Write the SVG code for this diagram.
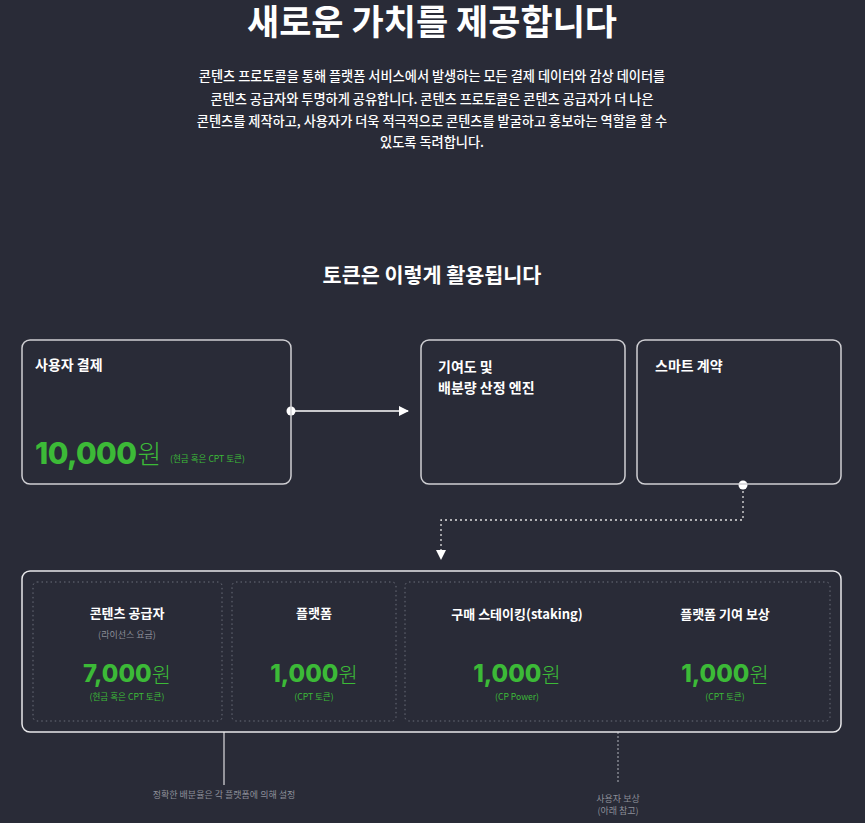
<svg xmlns="http://www.w3.org/2000/svg" width="865" height="823" viewBox="0 0 865 823">
<defs>
<style>
.kr{font-family:"Noto Sans CJK KR","Noto Sans",sans-serif}
.t{fill:#ffffff;font-weight:700}
.box{fill:none;stroke:#cfcfd3;stroke-width:1.5}
.inner{fill:none;stroke:#6b6e7a;stroke-width:1;stroke-dasharray:1.5 3}
.num{font-family:"Inter","Open Sans",sans-serif;font-weight:800;fill:#3cba37}
.won{font-family:"Noto Sans CJK KR",sans-serif;font-weight:300;fill:#3cba37}
.sg{font-family:"Noto Sans CJK KR",sans-serif;fill:#3cba37;font-size:8.6px}
.gray{font-family:"Noto Sans CJK KR",sans-serif;fill:#8d8f99}
.conn{fill:none;stroke:#ffffff;stroke-width:1.3}
.dot{fill:none;stroke:#e0e0e0;stroke-width:1.3;stroke-dasharray:2 3}
</style>
<marker id="arr" viewBox="0 0 10 10" refX="9" refY="5" markerWidth="10" markerHeight="10" markerUnits="userSpaceOnUse" orient="auto">
<path d="M0,0 L10,5 L0,10 z" fill="#ffffff"/>
</marker>
</defs>
<rect width="865" height="823" fill="#292b37"/>

<g id="header" class="kr" text-anchor="middle">
<text x="432" y="35" font-size="35" class="t">새로운 가치를 제공합니다</text>
<text x="432" y="81" font-size="13.2" fill="#ffffff" font-weight="500">콘텐츠 프로토콜을 통해 플랫폼 서비스에서 발생하는 모든 결제 데이터와 감상 데이터를</text>
<text x="432" y="104" font-size="13.2" fill="#ffffff" font-weight="500">콘텐츠 공급자와 투명하게 공유합니다. 콘텐츠 프로토콜은 콘텐츠 공급자가 더 나은</text>
<text x="432" y="126" font-size="13.2" fill="#ffffff" font-weight="500">콘텐츠를 제작하고, 사용자가 더욱 적극적으로 콘텐츠를 발굴하고 홍보하는 역할을 할 수</text>
<text x="432" y="147" font-size="13.2" fill="#ffffff" font-weight="500">있도록 독려합니다.</text>
<text x="432" y="283" font-size="20.7" class="t">토큰은 이렇게 활용됩니다</text>
</g>

<g id="connectors">
<line class="conn" x1="291" y1="411" x2="408" y2="411" marker-end="url(#arr)"/>
<circle cx="291" cy="411" r="4.5" fill="#ffffff"/>
<polyline class="dot" points="743,486 743,520 441,520 441,559" marker-end="url(#arr)"/>
<circle cx="743" cy="485" r="4.5" fill="#ffffff"/>
<line x1="224" y1="732" x2="224" y2="785" stroke="#b8b8be" stroke-width="1.5"/>
<line x1="618" y1="732" x2="618" y2="784" stroke="#9a9ca5" stroke-width="1.2" stroke-dasharray="2 2"/>
</g>

<g id="user-payment">
<rect class="box" x="22" y="340" width="269" height="144" rx="8"/>
<text class="kr t" x="35" y="370" font-size="14">사용자 결제</text>
<text x="35" y="464"><tspan class="num" font-size="30" letter-spacing="-0.6">10,000</tspan><tspan class="won" font-size="26" dx="1">원</tspan></text>
<text class="sg" x="170" y="462">(현금 혹은 CPT 토큰)</text>
</g>

<g id="engine">
<rect class="box" x="421" y="340" width="204" height="144" rx="8"/>
<text class="kr t" x="438" y="372" font-size="14">기여도 및</text>
<text class="kr t" x="438" y="393" font-size="14">배분량 산정 엔진</text>
</g>

<g id="smart-contract">
<rect class="box" x="637" y="340" width="204" height="144" rx="8"/>
<text class="kr t" x="655" y="371" font-size="14">스마트 계약</text>
</g>

<g id="distribution">
<rect x="22" y="571" width="819" height="161" rx="8" fill="none" stroke="#e8e8ea" stroke-width="1.5"/>
</g>

<g id="provider" text-anchor="middle">
<rect class="inner" x="33" y="582" width="189" height="139" rx="4"/>
<text class="kr t" x="127" y="618" font-size="13">콘텐츠 공급자</text>
<text class="gray" x="127" y="638" font-size="9">(라이선스 요금)</text>
<text x="127" y="682"><tspan class="num" font-size="24">7,000</tspan><tspan class="won" font-size="21">원</tspan></text>
<text class="sg" x="127" y="700">(현금 혹은 CPT 토큰)</text>
</g>

<g id="platform" text-anchor="middle">
<rect class="inner" x="232" y="582" width="164" height="139" rx="4"/>
<text class="kr t" x="314" y="618" font-size="13">플랫폼</text>
<text x="314" y="682"><tspan class="num" font-size="24">1,000</tspan><tspan class="won" font-size="21">원</tspan></text>
<text class="sg" x="314" y="700">(CPT 토큰)</text>
</g>

<g id="user-rewards">
<rect class="inner" x="405" y="582" width="425" height="139" rx="4"/>
</g>

<g id="staking" text-anchor="middle">
<text class="kr t" x="517" y="619" font-size="13">구매 스테이킹(staking)</text>
<text x="517" y="682"><tspan class="num" font-size="24">1,000</tspan><tspan class="won" font-size="21">원</tspan></text>
<text class="sg" x="517" y="700">(CP Power)</text>
</g>

<g id="contribution" text-anchor="middle">
<text class="kr t" x="725" y="619" font-size="13">플랫폼 기여 보상</text>
<text x="725" y="682"><tspan class="num" font-size="24">1,000</tspan><tspan class="won" font-size="21">원</tspan></text>
<text class="sg" x="725" y="700">(CPT 토큰)</text>
</g>

<g id="notes" text-anchor="middle">
<text class="gray" x="224" y="798" font-size="9" fill="#a3a5ad">정확한 배분율은 각 플랫폼에 의해 설정</text>
<text class="gray" x="618" y="802" font-size="9" fill="#a3a5ad">사용자 보상</text>
<text class="gray" x="618" y="814" font-size="9" fill="#a3a5ad">(아래 참고)</text>
</g>
</svg>
